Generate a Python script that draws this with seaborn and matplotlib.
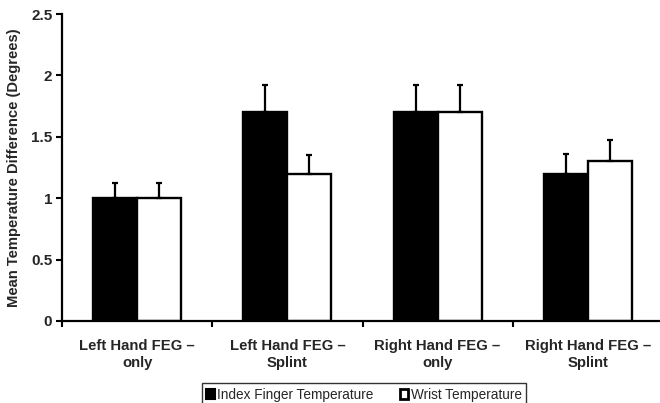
import matplotlib
matplotlib.use("Agg")
import matplotlib.pyplot as plt
import seaborn as sns
import pandas as pd
import numpy as np
from matplotlib.patches import Patch

categories = ["Left Hand FEG –\nonly", "Left Hand FEG –\nSplint",
              "Right Hand FEG –\nonly", "Right Hand FEG –\nSplint"]
series = ["Index Finger Temperature", "Wrist Temperature"]
index_vals = [1.0, 1.7, 1.7, 1.2]
wrist_vals = [1.0, 1.2, 1.7, 1.3]
index_err = [0.12, 0.22, 0.22, 0.16]
wrist_err = [0.12, 0.15, 0.22, 0.17]
yticks = [0, 0.5, 1, 1.5, 2, 2.5]
ytick_labels = ["0", "0.5", "1", "1.5", "2", "2.5"]

df = pd.DataFrame({
    "cat": categories * 2,
    "series": [series[0]] * 4 + [series[1]] * 4,
    "value": index_vals + wrist_vals,
})

sns.set_style("white")
plt.rcParams["font.family"] = ["Liberation Sans", "DejaVu Sans"]

fig = plt.figure(figsize=(6.6, 4.03), dpi=100)
ax = fig.add_axes([62 / 660, 82 / 403, 601 / 660, 307 / 403])

sns.barplot(data=df, x="cat", y="value", hue="series", order=categories,
            hue_order=series, palette=["black", "white"], width=0.587,
            edgecolor="black", linewidth=1.7, ax=ax, legend=False,
            errorbar=None, saturation=1)

errs = [index_err, wrist_err]
for cont, err in zip(ax.containers, errs):
    xs = [p.get_x() + p.get_width() / 2 for p in cont.patches]
    hs = [p.get_height() for p in cont.patches]
    ax.errorbar(xs, hs, yerr=[np.zeros(len(err)), err], fmt="none",
                ecolor="black", elinewidth=1.6, capsize=2.5, capthick=1.6,
                zorder=1)

ax.set_xlim(-0.5, 3.5)
ax.set_ylim(0, 2.5)
ax.set_yticks(yticks)
ax.set_yticklabels(ytick_labels, fontsize=11, fontweight="bold")
ax.set_xticks(range(len(categories)))
ax.set_xticklabels(categories, fontsize=10.7, fontweight="bold",
                   linespacing=1.3)
ax.tick_params(axis="x", which="major", length=0, pad=13)
ax.set_xticks([-0.5, 0.5, 1.5, 2.5, 3.5], minor=True)
ax.tick_params(axis="x", which="minor", length=4, width=1.5, direction="out",
               bottom=True, color="black")
ax.tick_params(axis="y", length=4, width=1.5, direction="out", left=True,
               color="black", pad=3)
ax.set_xlabel("")
ax.set_ylabel("Mean Temperature Difference (Degrees)", fontsize=10.6,
              fontweight="bold", labelpad=7)
for s in ["top", "right"]:
    ax.spines[s].set_visible(False)
for s in ["left", "bottom"]:
    ax.spines[s].set_color("black")
    ax.spines[s].set_linewidth(1.6)

handles = [Patch(facecolor="black", edgecolor="black", linewidth=1.5),
           Patch(facecolor="white", edgecolor="black", linewidth=2.0)]
leg = fig.legend(handles, series, loc="upper center",
                 bbox_to_anchor=(364 / 660, 1 - 383 / 403), ncol=2,
                 fontsize=9.8, frameon=True, fancybox=False,
                 handlelength=0.6, handleheight=0.7, handletextpad=0.2,
                 columnspacing=1.9, borderpad=0.35, borderaxespad=0,
                 edgecolor="black")
leg.get_frame().set_linewidth(1.0)

fig.savefig("out.png", dpi=100, facecolor="white")
